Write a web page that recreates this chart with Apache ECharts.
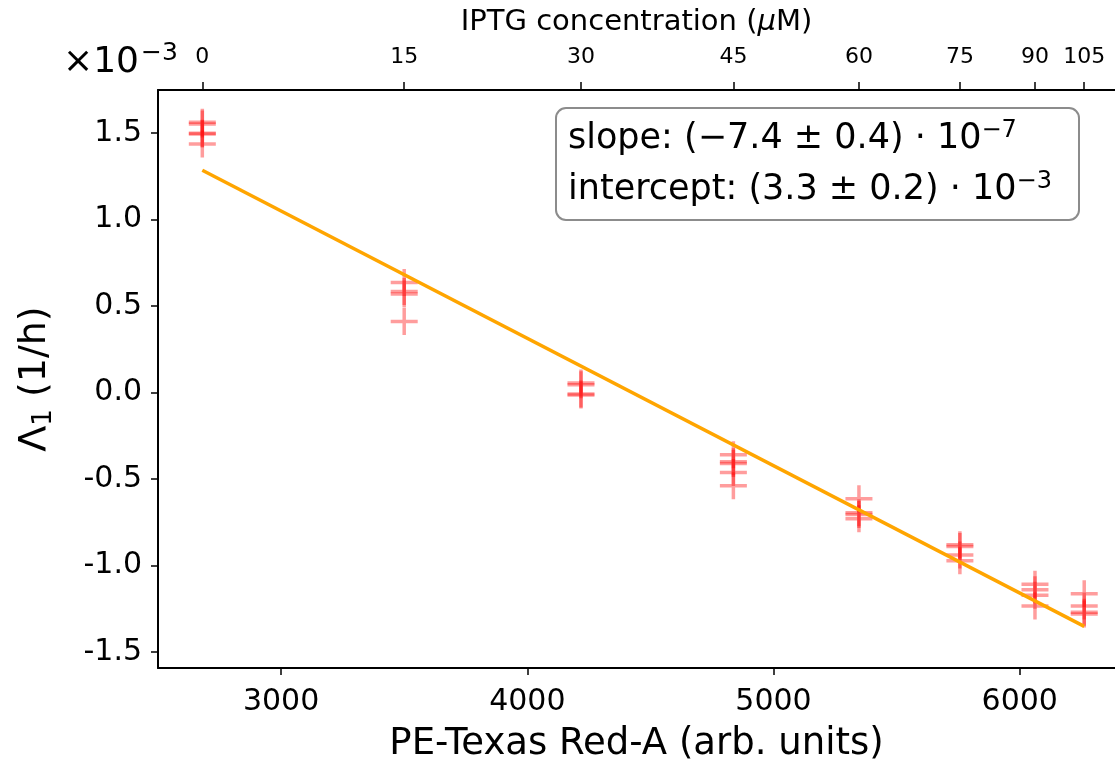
<!DOCTYPE html>
<html>
<head>
<meta charset="utf-8">
<script src="https://cdn.jsdelivr.net/npm/echarts@6/dist/echarts.min.js"></script>
<style>
html,body{margin:0;padding:0;background:#fff;}
#chart{width:1115px;height:769px;}
</style>
</head>
<body>
<div id="chart"></div>
<script>
// PE-Texas Red-A positions (arb. units) of each IPTG condition
const peValues = [2680, 3500, 4218, 4837, 5347, 5757, 6062, 6262];
// IPTG concentration labels (uM), top axis
const iptgLabels = ['0', '15', '30', '45', '60', '75', '90', '105'];
// Lambda_1 replicates (units of 1e-3 1/h), one list per condition
const lambda0 = [1.564, 1.553, 1.500, 1.495, 1.437];
const lambda15 = [0.637, 0.585, 0.570, 0.411];
const lambda30 = [0.055, 0.045, -0.008, -0.014];
const lambda45 = [-0.359, -0.400, -0.410, -0.463, -0.539];
const lambda60 = [-0.614, -0.695, -0.705, -0.730];
const lambda75 = [-0.880, -0.890, -0.939, -0.973];
const lambda90 = [-1.108, -1.141, -1.172, -1.234];
const lambda105 = [-1.164, -1.234, -1.270, -1.280];
// fitted line end points
const fitX = [2680, 6262];
const fitY = [1.286, -1.352];
// tick labels
const xTicks = [3000, 4000, 5000, 6000];
const yTicks = [-1.5, -1.0, -0.5, 0.0, 0.5, 1.0, 1.5];

const replicates = [lambda0, lambda15, lambda30, lambda45, lambda60, lambda75, lambda90, lambda105];
const scatterData = [];
replicates.forEach((arr, i) => arr.forEach(v => scatterData.push([peValues[i], v])));
const lineData = fitX.map((x, i) => [x, fitY[i]]);

const FONT = 'DejaVu Sans';
const xMin = 2500, xMax = 6387;
const plusPath = 'path://M11.75,0L15.25,0L15.25,27L11.75,27Z M0,11.75L27,11.75L27,15.25L0,15.25Z';

const chart = echarts.init(document.getElementById('chart'), null, {renderer: 'canvas'});
chart.setOption({
  animation: false,
  backgroundColor: '#fff',
  grid: {left: 158, top: 90, right: 0, bottom: 101, containLabel: false},
  xAxis: [{
    type: 'value', position: 'bottom', min: xMin, max: xMax,
    name: 'PE-Texas Red-A (arb. units)', nameLocation: 'middle', nameGap: 58,
    nameTextStyle: {fontFamily: FONT, fontSize: 37, color: '#000'},
    axisLine: {show: true, onZero: false, lineStyle: {color: '#000', width: 2}},
    axisTick: {show: true, length: 7, lineStyle: {color: '#000', width: 1.5}, customValues: xTicks},
    axisLabel: {show: true, fontFamily: FONT, fontSize: 30, color: '#000', margin: 19, customValues: xTicks,
      formatter: v => String(Math.round(v))},
    splitLine: {show: false}
  }, {
    type: 'value', position: 'top', min: xMin, max: xMax,
    name: 'IPTG concentration ({i|μ}M)', nameLocation: 'middle', nameGap: 53,
    nameTextStyle: {fontFamily: FONT, fontSize: 29, color: '#000',
      rich: {i: {fontFamily: FONT, fontSize: 29, fontStyle: 'italic', color: '#000'}}},
    axisLine: {show: true, onZero: false, lineStyle: {color: '#000', width: 2}},
    axisTick: {show: true, length: 8, lineStyle: {color: '#000', width: 1.5}, customValues: peValues},
    axisLabel: {show: true, fontFamily: FONT, fontSize: 22, color: '#000', margin: 22, customValues: peValues,
      formatter: v => {
        let best = 0;
        peValues.forEach((p, i) => { if (Math.abs(p - v) < Math.abs(peValues[best] - v)) best = i; });
        return iptgLabels[best];
      }},
    splitLine: {show: false}
  }],
  yAxis: {
    type: 'value', min: -1.593, max: 1.75,
    name: '{n|Λ}{s|1} (1/h)', nameLocation: 'middle', nameGap: 101, nameRotate: 90,
    nameTextStyle: {fontFamily: FONT, fontSize: 38, color: '#000',
      rich: {n: {fontFamily: FONT, fontSize: 38, color: '#000'},
             s: {fontFamily: FONT, fontSize: 26, color: '#000', verticalAlign: 'bottom', padding: [18, 0, 0, 0]}}},
    axisLine: {show: true, onZero: false, lineStyle: {color: '#000', width: 2}},
    axisTick: {show: true, length: 7, lineStyle: {color: '#000', width: 1.5}, customValues: yTicks},
    axisLabel: {show: true, fontFamily: FONT, fontSize: 30, color: '#000', margin: 16, customValues: yTicks,
      formatter: v => v.toFixed(1)},
    splitLine: {show: false}
  },
  series: [{
    type: 'scatter', xAxisIndex: 0, data: scatterData,
    symbol: plusPath, symbolSize: 27, symbolKeepAspect: true,
    itemStyle: {color: 'rgba(255,0,0,0.48)'}, z: 2, silent: true
  }, {
    type: 'line', xAxisIndex: 0, data: lineData, showSymbol: false, symbol: 'none',
    lineStyle: {color: '#FFA500', width: 3.5}, z: 3, silent: true
  }],
  graphic: [{
    type: 'text', left: 63, top: 41, z: 10,
    style: {text: '×10{sup|−3}', fontFamily: FONT, fontSize: 36, fill: '#000',
      rich: {sup: {fontFamily: FONT, fontSize: 25, fill: '#000', verticalAlign: 'top', padding: [0, 0, 18, 2]}}}
  }, {
    type: 'rect', z: 10,
    shape: {x: 556, y: 108, width: 523, height: 112, r: 10},
    style: {fill: '#fff', stroke: '#8c8c8c', lineWidth: 2}
  }, {
    type: 'text', x: 568, y: 139, z: 11,
    style: {text: 'slope: (−7.4 ± 0.4) · 10{sup|−7}', fontFamily: FONT, fontSize: 35, fill: '#000',
      verticalAlign: 'middle',
      rich: {sup: {fontFamily: FONT, fontSize: 24, fill: '#000', padding: [0, 0, 17, 0]}}}
  }, {
    type: 'text', x: 568, y: 190, z: 11,
    style: {text: 'intercept: (3.3 ± 0.2) · 10{sup|−3}', fontFamily: FONT, fontSize: 35, fill: '#000',
      verticalAlign: 'middle',
      rich: {sup: {fontFamily: FONT, fontSize: 24, fill: '#000', padding: [0, 0, 17, 0]}}}
  }]
});
</script>
</body>
</html>
